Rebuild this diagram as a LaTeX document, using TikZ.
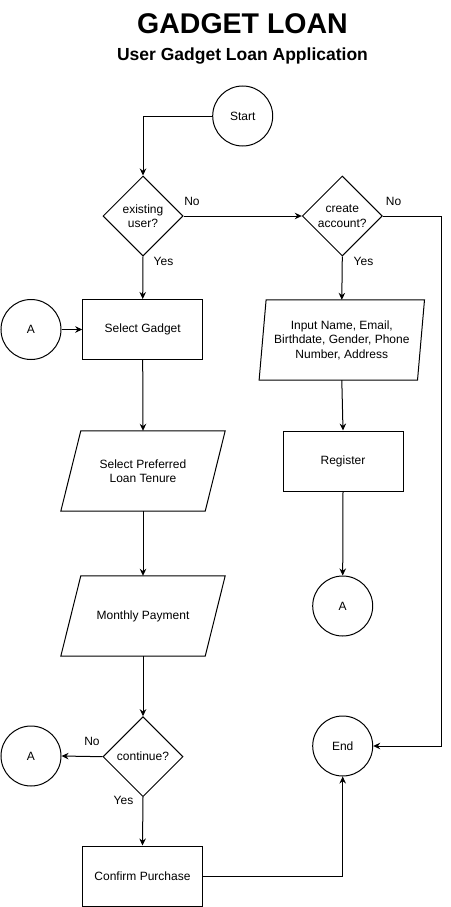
\documentclass[tikz,border=0pt]{standalone}
\usepackage{fontspec}
\setmainfont{Liberation Sans}
\usetikzlibrary{shapes.geometric,arrows.meta}
\begin{document}
\begin{tikzpicture}[x=1pt,y=-1pt,
  every node/.style={font=\fontsize{12}{14.5}\selectfont, inner sep=0pt},
  circ/.style={circle, draw, line width=1pt, minimum size=60pt},
  proc/.style={rectangle, draw, line width=1pt, minimum width=120pt, minimum height=60pt, align=center},
  dec/.style={diamond, draw, line width=1pt, minimum width=80pt, minimum height=80pt, aspect=1, align=center},
  para/.style={rectangle, minimum width=#1, minimum height=80pt, align=center},
  lbl/.style={font=\fontsize{12}{14}\selectfont},
  arr/.style={line width=1pt, -{Stealth[length=7pt,width=6.5pt]}},
  conn/.style={line width=1pt}
]
\useasboundingbox (0,0) rectangle (450,907);
\fill[white] (0,0) rectangle (450,907);

% titles
\node[anchor=base, font=\fontsize{28.5}{30}\selectfont\bfseries] (title) at (242.5,34) {GADGET LOAN};
\node[anchor=base, font=\fontsize{17.5}{20}\selectfont\bfseries] (subtitle) at (242.5,60) {User Gadget Loan Application};

% nodes
\node[circ] (start) at (242.7,116) {Start};
\node[dec] (exist) at (143,216) {existing\\user?};
\node[dec] (create) at (342.3,216) {create\\account?};
\node[proc] (gadget) at (142.7,329.5) {Select Gadget};
\node[circ] (aleft) at (31,329.5) {A};
\node[para=165pt] (input) at (341.8,340) {Input Name, Email,\\Birthdate, Gender, Phone\\Number, Address};
\node[para=164pt] (tenure) at (143,471) {Select Preferred\\Loan Tenure};
\node[proc] (register) at (343,461) {Register};
\node[circ] (aright) at (342.7,606) {A};
\node[para=164pt] (monthly) at (143,616) {Monthly Payment};
\node[dec] (cont) at (143,756.7) {continue?};
\node[circ] (abot) at (31,756) {A};
\node[circ] (endn) at (342.7,746) {End};
\node[proc] (confirm) at (142.5,876) {Confirm Purchase};
\coordinate (rx) at (441.7,216);

% parallelogram outlines
\draw[line width=1pt, line join=miter] ([xshift=7pt]input.north west) -- (input.north east) -- ([xshift=-7pt]input.south east) -- (input.south west) -- cycle;
\draw[line width=1pt, line join=miter] ([xshift=20pt]tenure.north west) -- (tenure.north east) -- ([xshift=-20pt]tenure.south east) -- (tenure.south west) -- cycle;
\draw[line width=1pt, line join=miter] ([xshift=20pt]monthly.north west) -- (monthly.north east) -- ([xshift=-20pt]monthly.south east) -- (monthly.south west) -- cycle;

% connectors
\draw[arr] (start.west) -| (exist.north);
\draw[arr] (exist.east) -- (create.west);
\draw[arr] (exist.south) -- (gadget.north);
\draw[arr] (create.south) -- (input.north);
\draw[arr] (create.east) -- (rx) |- (endn.east);
\draw[arr] (aleft.east) -- (gadget.west);
\draw[arr] (gadget.south) -- (tenure.north);
\draw[arr] (tenure.south) -- (monthly.north);
\draw[arr] (monthly.south) -- (cont.north);
\draw[arr] (cont.west) -- (abot.east);
\draw[arr] (cont.south) -- (confirm.north);
\draw[arr] (input.south) -- (register.north);
\draw[arr] (register.south) -- (aright.north);
\draw[arr] (confirm.east) -| (endn.south);

% labels
\node[lbl] (l1) at (192,201) {No};
\node[lbl] (l2) at (163.5,261) {Yes};
\node[lbl] (l3) at (393.5,201) {No};
\node[lbl] (l4) at (363.5,261) {Yes};
\node[lbl] (l5) at (92,741.5) {No};
\node[lbl] (l6) at (123.5,800.5) {Yes};
\end{tikzpicture}
\end{document}
